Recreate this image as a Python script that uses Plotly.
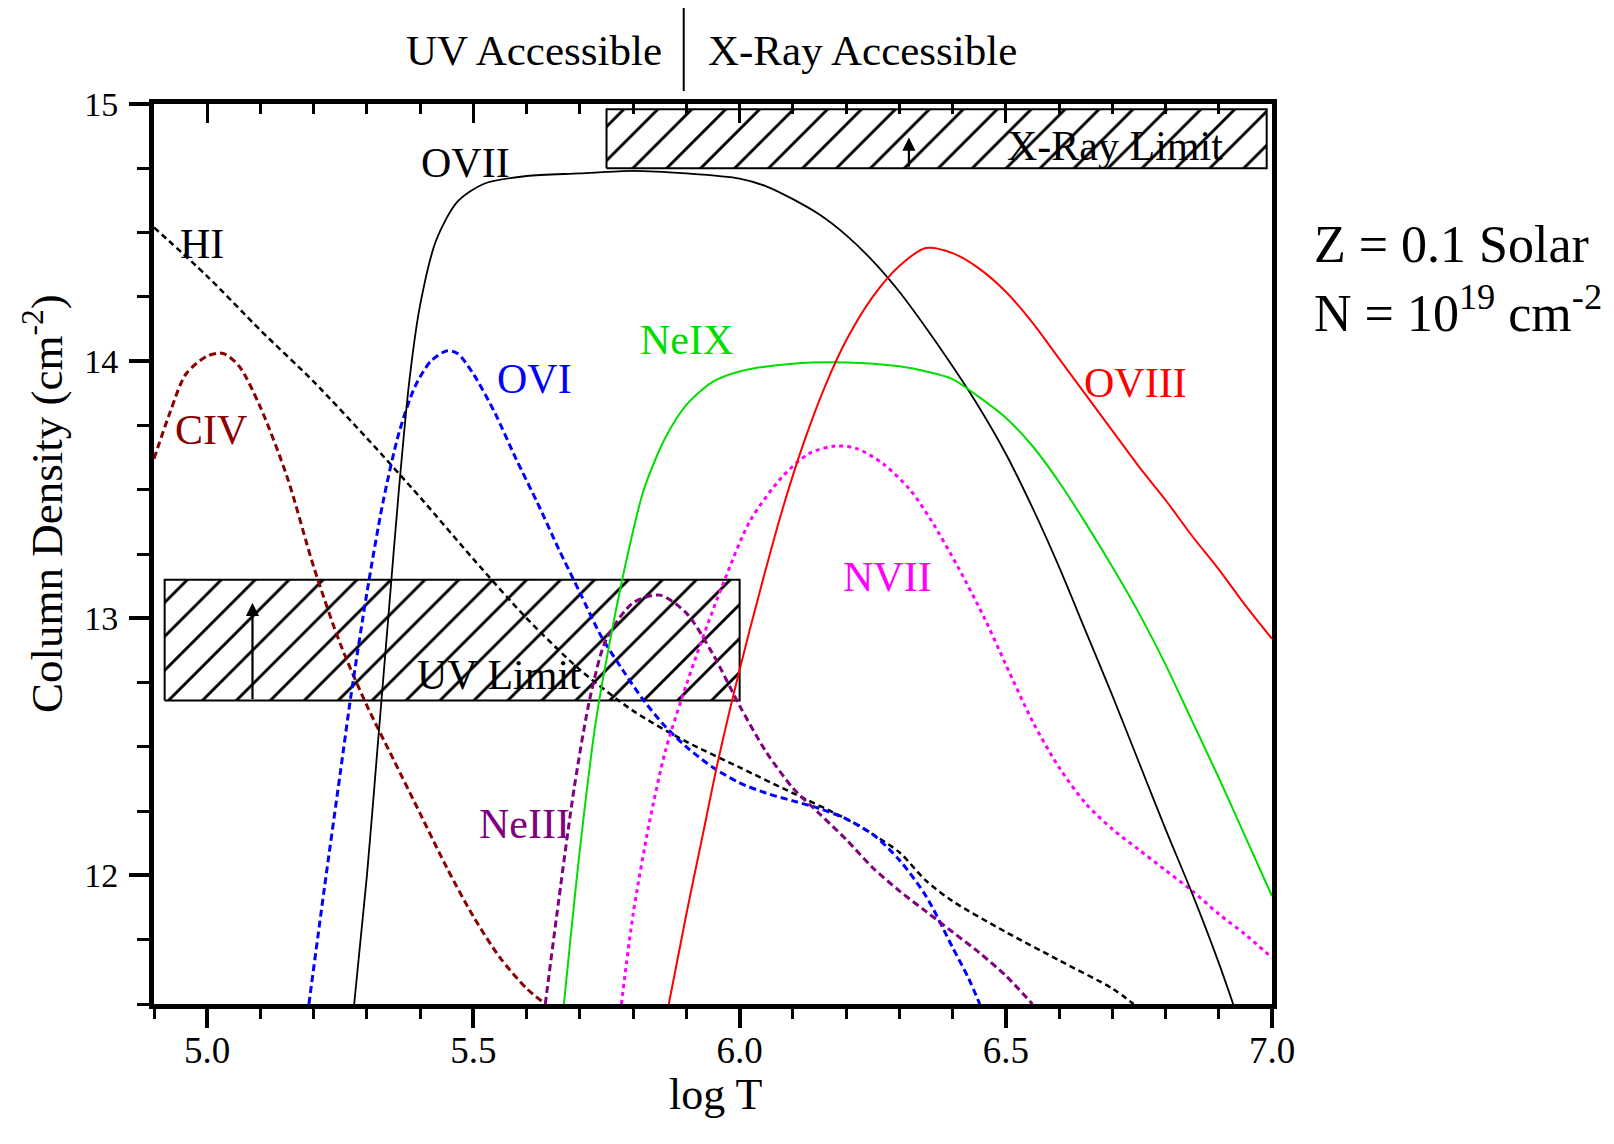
import plotly.graph_objects as go

FONT = "Liberation Serif"

# ---------------- data ----------------
OVII_T = [5.276, 5.30, 5.32, 5.34, 5.36, 5.38, 5.40, 5.43, 5.47, 5.52, 5.60, 5.70, 5.80, 5.90, 6.00, 6.05,
          6.10, 6.15, 6.20, 6.25, 6.30, 6.35, 6.40, 6.45, 6.50, 6.55, 6.60, 6.65, 6.70, 6.75, 6.80, 6.85, 6.90, 6.927]
OVII_N = [11.5, 12.0, 12.5, 13.0, 13.5, 13.93, 14.22, 14.47, 14.62, 14.69, 14.72, 14.73, 14.74, 14.73, 14.71, 14.68,
          14.63, 14.57, 14.49, 14.39, 14.27, 14.13, 13.98, 13.82, 13.64, 13.43, 13.2, 12.95, 12.7, 12.44, 12.18, 11.93, 11.66, 11.5]

OVI_T = [5.191, 5.22, 5.25, 5.27, 5.30, 5.33, 5.36, 5.39, 5.42, 5.45, 5.47, 5.50, 5.54, 5.58, 5.62, 5.66, 5.70,
         5.74, 5.78, 5.82, 5.86, 5.90, 5.95, 6.00, 6.05, 6.10, 6.15, 6.20, 6.25, 6.30, 6.35, 6.40, 6.43, 6.451]
OVI_N = [11.5, 11.95, 12.4, 12.7, 13.1, 13.45, 13.72, 13.9, 14.0, 14.04, 14.03, 13.95, 13.8, 13.62, 13.45, 13.27, 13.1,
         12.93, 12.8, 12.68, 12.58, 12.5, 12.42, 12.36, 12.32, 12.29, 12.26, 12.22, 12.16, 12.06, 11.92, 11.72, 11.6, 11.5]

HI_T = [4.9, 5.0, 5.1, 5.2, 5.3, 5.4, 5.5, 5.6, 5.7, 5.8, 5.9, 6.0, 6.1, 6.2, 6.25, 6.3, 6.35, 6.4, 6.5, 6.6, 6.7, 6.74]
HI_N = [14.52, 14.33, 14.12, 13.92, 13.7, 13.47, 13.23, 13.0, 12.8, 12.64, 12.52, 12.42, 12.32, 12.22, 12.16, 12.09,
        11.98, 11.9, 11.78, 11.67, 11.56, 11.5]

CIV_T = [4.9, 4.93, 4.96, 5.0, 5.03, 5.06, 5.1, 5.15, 5.2, 5.25, 5.3, 5.35, 5.4, 5.45, 5.5, 5.55, 5.6, 5.635]
CIV_N = [13.62, 13.8, 13.95, 14.02, 14.03, 13.98, 13.82, 13.55, 13.2, 12.9, 12.66, 12.45, 12.24, 12.03, 11.84, 11.68, 11.56, 11.5]

NEIII_T = [5.635, 5.66, 5.69, 5.72, 5.75, 5.8, 5.85, 5.9, 5.95, 6.0, 6.05, 6.1, 6.15, 6.2, 6.25, 6.3, 6.35, 6.4, 6.45, 6.5, 6.55]
NEIII_N = [11.5, 11.9, 12.35, 12.7, 12.92, 13.06, 13.09, 13.02, 12.86, 12.66, 12.48, 12.34, 12.24, 12.14, 12.03, 11.94,
           11.86, 11.78, 11.7, 11.61, 11.5]

NEIX_T = [5.67, 5.70, 5.73, 5.76, 5.79, 5.82, 5.86, 5.90, 5.95, 6.0, 6.1, 6.2, 6.3, 6.35, 6.4, 6.45, 6.5, 6.55, 6.6,
          6.65, 6.7, 6.75, 6.8, 6.85, 6.9, 6.95, 7.0]
NEIX_N = [11.5, 12.1, 12.6, 12.95, 13.25, 13.5, 13.7, 13.83, 13.92, 13.96, 13.99, 13.995, 13.98, 13.96, 13.93, 13.86,
          13.78, 13.67, 13.53, 13.37, 13.2, 13.02, 12.82, 12.6, 12.38, 12.15, 11.92]

OVIII_T = [5.867, 5.9, 5.93, 5.96, 6.0, 6.04, 6.08, 6.12, 6.16, 6.2, 6.25, 6.3, 6.35, 6.4, 6.45, 6.5, 6.55, 6.6,
           6.65, 6.7, 6.75, 6.8, 6.85, 6.9, 6.95, 7.0]
OVIII_N = [11.5, 11.85, 12.15, 12.45, 12.8, 13.12, 13.42, 13.68, 13.9, 14.08, 14.25, 14.37, 14.44, 14.42, 14.36, 14.27,
           14.15, 14.01, 13.87, 13.73, 13.59, 13.46, 13.32, 13.19, 13.05, 12.92]

NVII_T = [5.778, 5.8, 5.83, 5.86, 5.89, 5.93, 5.97, 6.02, 6.08, 6.13, 6.18, 6.22, 6.27, 6.32, 6.36, 6.41, 6.46, 6.5,
          6.55, 6.6, 6.65, 6.7, 6.75, 6.8, 6.85, 6.9, 6.95, 7.0]
NVII_N = [11.5, 11.85, 12.2, 12.48, 12.68, 12.92, 13.14, 13.38, 13.55, 13.64, 13.67, 13.66, 13.6, 13.5, 13.38, 13.2,
          13.0, 12.82, 12.6, 12.42, 12.28, 12.18, 12.1, 12.02, 11.94, 11.85, 11.77, 11.68]

# detection-limit boxes (logT range, column density range)
UV_BOX_T = [4.92, 6.0]
UV_BOX_N = [12.68, 13.15]
XR_BOX_T = [5.75, 6.99]
XR_BOX_N = [14.75, 14.98]
UV_ARROW = {"t": 5.085, "n_from": 12.68, "n_to": 13.06}
XR_ARROW = {"t": 6.318, "n_from": 14.75, "n_to": 14.87}
UV_XRAY_BOUNDARY = 5.895

# curve labels: name, logT, N, colour
LABELS = [
    ("OVII", 5.485, 14.772, "black"),
    ("HI", 4.99, 14.455, "black"),
    ("OVI", 5.614, 13.93, "#0000ff"),
    ("NeIX", 5.90, 14.083, "#00dd00"),
    ("OVIII", 6.743, 13.915, "#ff0000"),
    ("CIV", 5.007, 13.734, "#8b0000"),
    ("NVII", 6.277, 13.162, "#ff00ff"),
    ("NeIII", 5.595, 12.20, "#800080"),
]
BOX_TEXTS = [("UV Limit", 5.548, 12.78), ("X-Ray Limit", 6.706, 14.836)]

X_RANGE = [4.9, 7.0]
Y_RANGE = [11.5, 15.0]

fig = go.Figure()


def box_trace(ts, ns):
    xs = [ts[0], ts[1], ts[1], ts[0], ts[0]]
    ys = [ns[0], ns[0], ns[1], ns[1], ns[0]]
    return go.Scatter(x=xs, y=ys, mode="lines", fill="toself",
                      fillcolor="white",
                      fillpattern=dict(shape="/", size=24, solidity=0.12, fgcolor="black",
                                       bgcolor="white", fgopacity=1),
                      line=dict(color="black", width=2), hoverinfo="skip", showlegend=False)


fig.add_trace(box_trace(UV_BOX_T, UV_BOX_N))
fig.add_trace(box_trace(XR_BOX_T, XR_BOX_N))

curves = [
    (HI_T, HI_N, "black", "6px,4px", 2.5),
    (CIV_T, CIV_N, "#8b0000", "7px,4px", 3),
    (OVI_T, OVI_N, "#0000ff", "7px,4px", 3),
    (NEIII_T, NEIII_N, "#800080", "7px,4px", 3),
    (NVII_T, NVII_N, "#ff00ff", "4px,4px", 3),
    (OVII_T, OVII_N, "black", "solid", 1.8),
    (NEIX_T, NEIX_N, "#00dd00", "solid", 2),
    (OVIII_T, OVIII_N, "#ff0000", "solid", 2),
]
for t, n, c, d, w in curves:
    fig.add_trace(go.Scatter(x=t, y=n, mode="lines",
                             line=dict(color=c, dash=d, width=w, shape="spline", smoothing=0.8),
                             hoverinfo="skip", showlegend=False))

# empty trace so that the top (inside-tick) axis exists
fig.add_trace(go.Scatter(x=[None], y=[None], xaxis="x2", mode="lines", showlegend=False, hoverinfo="skip"))

ann = []
for name, t, n, c in LABELS:
    ann.append(dict(x=t, y=n, xref="x", yref="y", text=name, showarrow=False,
                    font=dict(family=FONT, size=42, color=c)))
for name, t, n in BOX_TEXTS:
    ann.append(dict(x=t, y=n, xref="x", yref="y", text=name, showarrow=False,
                    font=dict(family=FONT, size=42, color="black")))
for a in (UV_ARROW, XR_ARROW):
    ann.append(dict(x=a["t"], y=a["n_to"], ax=a["t"], ay=a["n_from"], xref="x", yref="y",
                    axref="x", ayref="y", text="", showarrow=True, arrowhead=2, arrowsize=1.2,
                    arrowwidth=2.2, arrowcolor="black"))

ann += [
    dict(x=UV_XRAY_BOUNDARY, y=1.0589, xref="x", yref="paper", text="UV Accessible", showarrow=False,
         xanchor="right", xshift=-20, yanchor="middle", font=dict(family=FONT, size=43, color="black")),
    dict(x=UV_XRAY_BOUNDARY, y=1.0589, xref="x", yref="paper", text="X-Ray Accessible", showarrow=False,
         xanchor="left", xshift=22, yanchor="middle", font=dict(family=FONT, size=43, color="black")),
    dict(x=1.036, y=0.8444, xref="paper", yref="paper", text="Z = 0.1 Solar", showarrow=False,
         xanchor="left", yanchor="middle", font=dict(family=FONT, size=52, color="black")),
    dict(x=1.036, y=0.7722, xref="paper", yref="paper", text="N = 10<sup>19</sup> cm<sup>-2</sup>",
         showarrow=False, xanchor="left", yanchor="middle", font=dict(family=FONT, size=52, color="black")),
    dict(x=-0.099, y=0.556, xref="paper", yref="paper", text="Column Density (cm<sup>-2</sup>)",
         showarrow=False, textangle=-90, xanchor="center", yanchor="middle",
         font=dict(family=FONT, size=45, color="black")),
    dict(x=0.502, y=-0.10, xref="paper", yref="paper", text="log T", showarrow=False,
         xanchor="center", yanchor="middle", font=dict(family=FONT, size=44, color="black")),
]

fig.update_layout(
    width=1614, height=1144, autosize=False,
    margin=dict(l=154, r=342, t=104, b=140, pad=0),
    paper_bgcolor="white", plot_bgcolor="white",
    font=dict(family=FONT, color="black"),
    showlegend=False,
    annotations=ann,
    shapes=[dict(type="line", xref="x", yref="paper", x0=UV_XRAY_BOUNDARY, x1=UV_XRAY_BOUNDARY,
                 y0=1.0144, y1=1.1067, line=dict(color="black", width=2))],
    xaxis=dict(range=X_RANGE, showgrid=False, zeroline=False, showline=True, linecolor="black",
               linewidth=5, mirror=True, ticks="outside", ticklen=19, tickwidth=3.5, tickcolor="black",
               tick0=5.0, dtick=0.5, tickformat=".1f", ticklabelstandoff=-9,
               tickfont=dict(family=FONT, size=37, color="black"),
               minor=dict(dtick=0.1, tick0=5.0, ticks="outside", ticklen=10, tickwidth=3, tickcolor="black",
                          showgrid=False)),
    xaxis2=dict(range=X_RANGE, overlaying="x", side="top", showgrid=False, zeroline=False, showline=True,
                linecolor="black", linewidth=5, ticks="inside", ticklen=19, tickwidth=3, tickcolor="black",
                tick0=5.0, dtick=0.5, showticklabels=False,
                minor=dict(dtick=0.1, tick0=5.0, ticks="inside", ticklen=10, tickwidth=3, tickcolor="black",
                           showgrid=False)),
    yaxis=dict(range=Y_RANGE, showgrid=False, zeroline=False, showline=True, linecolor="black",
               linewidth=5, mirror=True, ticks="outside", ticklen=20, tickwidth=3.5, tickcolor="black",
               tick0=12, dtick=1, ticklabelstandoff=4,
               tickfont=dict(family=FONT, size=34, color="black"),
               minor=dict(dtick=0.25, tick0=12, ticks="outside", ticklen=12, tickwidth=3, tickcolor="black",
                          showgrid=False)),
)

fig.write_html("out.html")
